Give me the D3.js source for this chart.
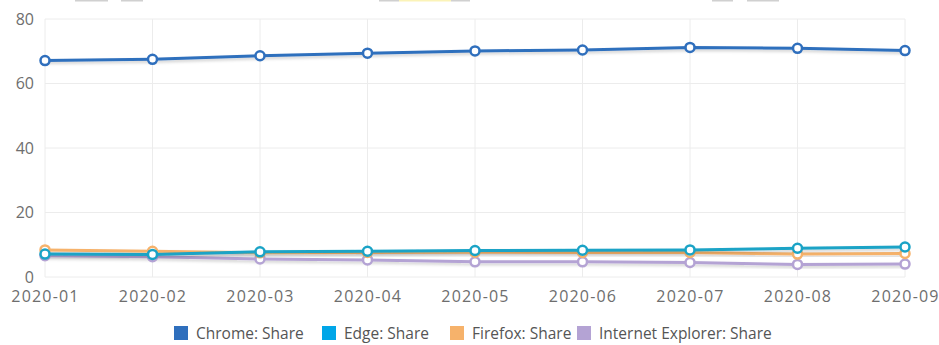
<!DOCTYPE html>
<html>
<head>
<meta charset="utf-8">
<script src="https://cdn.jsdelivr.net/npm/d3@7"></script>
<style>
  body { margin: 0; background: #fff; }
  text { font-family: "Open Sans", sans-serif; }
</style>
</head>
<body>
<div id="wrapper"></div>
<script>
const months = ["2020-01", "2020-02", "2020-03", "2020-04", "2020-05", "2020-06", "2020-07", "2020-08", "2020-09"];
const chrome = [67.1, 67.5, 68.6, 69.4, 70.1, 70.4, 71.2, 70.9, 70.2];
const edge = [7.1, 7.0, 7.8, 8.0, 8.2, 8.3, 8.4, 8.9, 9.3];
const firefox = [8.4, 8.0, 7.5, 7.6, 7.7, 7.6, 7.6, 7.1, 7.3];
const ie = [6.6, 6.3, 5.6, 5.3, 4.7, 4.7, 4.5, 3.9, 4.0];
const yTicks = [0, 20, 40, 60, 80];

const series = [
  {name: "Chrome: Share", values: chrome, color: "#2f6fbd", legend: "#2f6fbd"},
  {name: "Edge: Share", values: edge, color: "#1aa3c6", legend: "#00a6e8"},
  {name: "Firefox: Share", values: firefox, color: "#f6b26b", legend: "#f6b26b"},
  {name: "Internet Explorer: Share", values: ie, color: "#b4a3d4", legend: "#b4a3d4"}
];

var dimension = {
  width: 939,
  height: 345,
  margin: {top: 19, right: 34, bottom: 68, left: 45}
};

const svg = d3.select("#wrapper")
  .append("svg")
  .attr("width", dimension.width)
  .attr("height", dimension.height);

const defs = svg.append("defs");
defs.append("filter")
  .attr("id", "shadow")
  .attr("x", "-5%").attr("y", "-50%").attr("width", "110%").attr("height", "200%")
  .append("feDropShadow")
  .attr("dx", 1).attr("dy", 2).attr("stdDeviation", 1.5)
  .attr("flood-color", "#000").attr("flood-opacity", 0.18);

// bits of something cut off at the top edge
const topBits = [[75, 33, "#d0d0d0"], [121, 22, "#d0d0d0"], [379, 20, "#d0d0d0"], [399, 52, "#fbf3b8"],
  [451, 19, "#d0d0d0"], [712, 21, "#d0d0d0"], [747, 32, "#d0d0d0"]];
svg.selectAll("rect.bit")
  .data(topBits)
  .enter().append("rect")
  .attr("class", "bit")
  .attr("x", d => d[0]).attr("y", 0)
  .attr("width", d => d[1]).attr("height", 1.5)
  .attr("fill", d => d[2]);

const x = d3.scalePoint()
  .domain(months)
  .range([dimension.margin.left, dimension.width - dimension.margin.right]);

const y = d3.scaleLinear()
  .domain([0, 80])
  .range([dimension.height - dimension.margin.bottom, dimension.margin.top]);

// grid
svg.append("g")
  .selectAll("line")
  .data(yTicks)
  .enter().append("line")
  .attr("x1", x.range()[0]).attr("x2", x.range()[1])
  .attr("y1", d => y(d)).attr("y2", d => y(d))
  .attr("stroke", "#ececec");

svg.append("g")
  .selectAll("line")
  .data(months)
  .enter().append("line")
  .attr("x1", d => x(d)).attr("x2", d => x(d))
  .attr("y1", y(0)).attr("y2", y(80))
  .attr("stroke", "#ececec");

// axes
const yAxis = svg.append("g")
  .attr("transform", `translate(${dimension.margin.left - 11},0)`)
  .call(d3.axisLeft(y).tickValues(yTicks).tickSize(0).tickPadding(0));
yAxis.select(".domain").remove();
yAxis.selectAll("text").attr("fill", "#6e6e6e").style("font-size", "16px");

const xAxis = svg.append("g")
  .attr("transform", `translate(0,${y(0) + 14})`)
  .call(d3.axisBottom(x).tickSize(0).tickPadding(0));
xAxis.select(".domain").remove();
xAxis.selectAll("text")
  .attr("fill", "#6e6e6e")
  .style("font-size", "16px")
  .style("letter-spacing", "1.2px");

// lines, drawn back to front
const line = d3.line()
  .x((d, i) => x(months[i]))
  .y(d => y(d));

const drawOrder = series.slice().reverse();
const g = svg.selectAll("g.series")
  .data(drawOrder)
  .enter().append("g")
  .attr("class", "series");

g.append("path")
  .attr("d", d => line(d.values))
  .attr("fill", "none")
  .attr("stroke", d => d.color)
  .attr("stroke-width", 3)
  .attr("filter", "url(#shadow)");

g.selectAll("circle")
  .data(d => d.values.map(v => ({v, color: d.color})))
  .enter().append("circle")
  .attr("cx", (d, i) => x(months[i]))
  .attr("cy", d => y(d.v))
  .attr("r", 4.5)
  .attr("fill", "#fff")
  .attr("stroke", d => d.color)
  .attr("stroke-width", 2.5);

// legend
const legendX = [174, 322, 450, 577];
const legend = svg.selectAll("g.legend")
  .data(series)
  .enter().append("g")
  .attr("class", "legend")
  .attr("transform", (d, i) => `translate(${legendX[i]},326)`);

legend.append("rect")
  .attr("width", 14).attr("height", 14)
  .attr("fill", d => d.legend);

legend.append("text")
  .attr("x", 22).attr("y", 13)
  .attr("fill", "#555")
  .style("font-size", "15.5px")
  .text(d => d.name);
</script>
</body>
</html>
